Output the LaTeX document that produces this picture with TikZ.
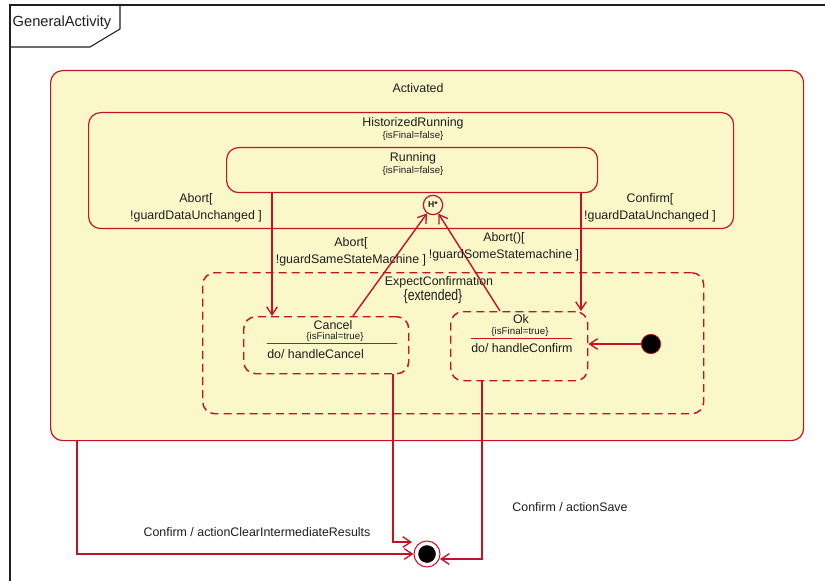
\documentclass[tikz,border=0pt]{standalone}
\usepackage{fontspec}
\setmainfont{Liberation Sans}
\newfontfamily\condfont[FakeStretch=0.8]{Liberation Sans}
\usetikzlibrary{arrows.meta,calc}
\definecolor{umlred}{RGB}{196,18,38}
\definecolor{umlfill}{RGB}{250,248,200}
\definecolor{ink}{RGB}{30,30,30}
\begin{document}
\begin{tikzpicture}[x=0.75pt,y=-0.75pt,
  every node/.style={text=ink},
  statebox/.style={draw=umlred, line width=0.9pt, rounded corners=9pt,
    inner sep=0, anchor=north west},
  dashedbox/.style={statebox, line width=1.1pt, dash pattern=on 6pt off 3.8pt},
  title/.style={font=\fontsize{9.3}{11}\selectfont, inner sep=0},
  small/.style={font=\fontsize{7.3}{9}\selectfont, inner sep=0},
  lbl/.style={font=\fontsize{9.3}{12.75}\selectfont, align=center, inner sep=0},
  tr/.style={draw=umlred, line width=1.05pt,
    -{Straight Barb[length=6pt,width=8pt,line width=1pt]}},
  sep/.style={draw=umlred, line width=0.7pt}]
% page size
\useasboundingbox (0,0) rectangle (825,581);
\fill[white] (0,0) rectangle (825,581);

% frame with name tab
\draw[ink, line width=0.8pt] (10,581) -- (10,5) -- (825,5);
\draw[ink, line width=0.8pt] (120,5) -- (120,29) -- (90,47) -- (10,47);
\node[font=\fontsize{11}{13}\selectfont, inner sep=0] (frameName) at (62,23) {GeneralActivity};

% composite states
\node[statebox, fill=umlfill, minimum width=564.75pt, minimum height=277.5pt] (activated) at (50,70) {};
\node[title] (activatedName) at (418,88) {Activated};

\node[statebox, minimum width=483.75pt, minimum height=87pt] (historized) at (88,112) {};
\node[title] (historizedName) at (413,123) {HistorizedRunning};
\node[small] (historizedProp) at (413,136) {\{isFinal=false\}};

\node[statebox, minimum width=278.25pt, minimum height=33.75pt] (running) at (226,147) {};
\node[title] (runningName) at (413,158) {Running};
\node[small] (runningProp) at (413,171) {\{isFinal=false\}};

\node[dashedbox, minimum width=375.75pt, minimum height=105.75pt] (expect) at (202,272) {};
\node[title] (expectName) at (439,282) {ExpectConfirmation};
\node[font=\condfont\fontsize{11.5}{13}\selectfont, inner sep=0] (expectProp) at (433,297) {\{extended\}};

% simple states
\node[dashedbox, minimum width=123.75pt, minimum height=42.75pt] (cancel) at (243,316) {};
\node[title] (cancelName) at (333,325) {Cancel};
\node[small] (cancelProp) at (335,337) {\{isFinal=true\}};
\draw[sep] ($(cancel.north west)+(24,27)$) -- ++(130,0);
\node[title, anchor=west] (cancelDo) at (267,354) {do/ handleCancel};

\node[dashedbox, minimum width=102.75pt, minimum height=51.75pt] (ok) at (450,311) {};
\node[title] (okName) at (521,319) {Ok};
\node[small] (okProp) at (520,332) {\{isFinal=true\}};
\draw[sep] ($(ok.north west)+(21,27)$) -- ++(101,0);
\node[title, anchor=west] (okDo) at (471,348) {do/ handleConfirm};

% pseudo states
\node[circle, draw=umlred, line width=0.9pt, fill=umlfill, minimum size=14.5pt, inner sep=0,
  font=\bfseries\fontsize{6.5}{7}\selectfont] (hist) at (433,205) {H*};
\node[circle, draw=umlred, line width=0.6pt, fill=black, minimum size=14.5pt, inner sep=0] (init) at (651,344) {};
\node[circle, draw=umlred, line width=0.8pt, fill=white, minimum size=19.5pt, inner sep=0] (final) at (427,554) {};
\fill[black] (final.center) circle (6.6pt);

% transitions
\draw[tr] ($(running.south west)+(46,0)$) coordinate (abortStart) -- (abortStart |- cancel.north);
\draw[tr] ($(running.south west)+(355,0)$) coordinate (confirmStart) -- (confirmStart |- ok.north);
\draw[tr] ($(cancel.north west)+(110,0)$) -- (hist);
\draw[tr] ($(ok.north west)+(50,0)$) -- (hist);
\draw[tr] (init) -- (init -| ok.east);
\draw[tr] ($(cancel.south west)+(150,0)$) |- ($(final.center)+(-15,-12)$);
\draw[tr] ($(ok.south west)+(32,0)$) |- ($(final.center)+(13,5)$);
\draw[tr] ($(activated.south west)+(27,0)$) |- (final.west);

% transition labels
\node[lbl] (abortLbl) at (196,207.5) {Abort[\\!guardDataUnchanged ]};
\node[lbl] (confirmLbl) at (650,207.5) {Confirm[\\!guardDataUnchanged ]};
\node[lbl] (abortSameLbl) at (351,252) {Abort[\\!guardSameStateMachine ]};
\node[lbl] (abortSomeLbl) at (504,247) {Abort()[\\!guardSomeStatemachine ]};
\node[lbl] (clearLbl) at (257,532) {Confirm / actionClearIntermediateResults};
\node[lbl] (saveLbl) at (570,507) {Confirm / actionSave};
\end{tikzpicture}
\end{document}
